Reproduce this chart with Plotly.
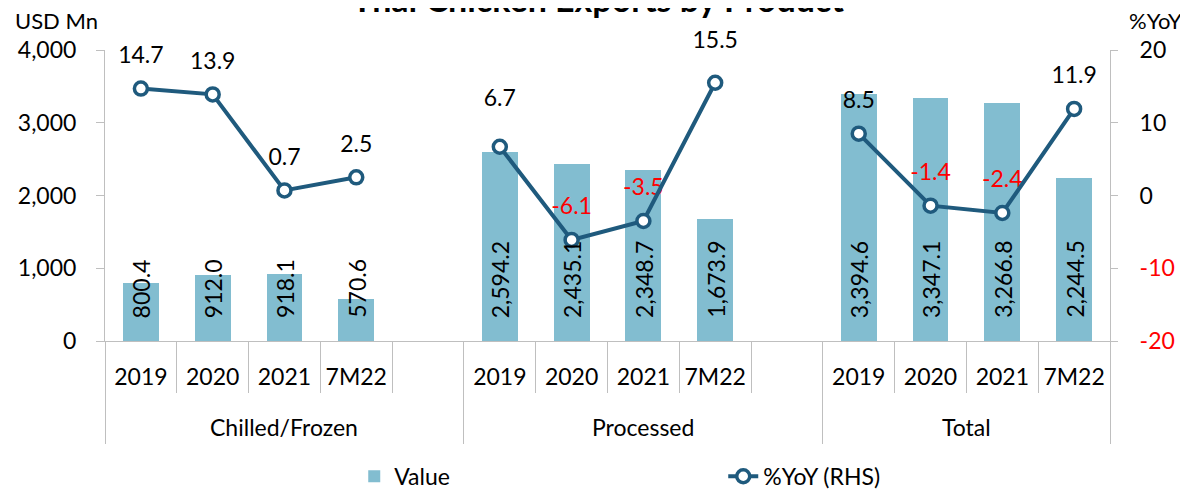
import plotly.graph_objects as go

groups = ["Chilled/Frozen", "Processed", "Total"]
periods = ["2019", "2020", "2021", "7M22"]
value_chilled = [800.4, 912.0, 918.1, 570.6]
value_processed = [2594.2, 2435.1, 2348.7, 1673.9]
value_total = [3394.6, 3347.1, 3266.8, 2244.5]
yoy_chilled = [14.7, 13.9, 0.7, 2.5]
yoy_processed = [6.7, -6.1, -3.5, 15.5]
yoy_total = [8.5, -1.4, -2.4, 11.9]

values = [value_chilled, value_processed, value_total]
yoys = [yoy_chilled, yoy_processed, yoy_total]

# style: label clearance above each %YoY point (invisible marker size, px)
label_gap_chilled = [30, 30, 30, 30]
label_gap_processed = [55, 30, 30, 44]
label_gap_total = [30, 30, 30, 30]
label_gaps = [label_gap_chilled, label_gap_processed, label_gap_total]

FONT = "Lato"
FS = 23
BAR_COLOR = "#82BDD0"
LINE_COLOR = "#1F5A7D"
AXIS_COLOR = "#BFBFBF"
SLOTS = len(periods) + 1  # one blank slot after each group

# page body has an 8px margin; size the figure to fit the 1188x489 window
BODY = 8
W, H = 1188 - BODY, 489 - BODY

bar_x, bar_y, line_x, line_y, gap_s = [], [], [], [], []
tick_pos, tick_txt, sep_pos, grp_pos, grp_ctr = [], [], [], [], []
for gi, g in enumerate(groups):
    base = gi * SLOTS
    grp_pos.append(base - 0.5)
    for pi, p in enumerate(periods):
        pos = base + pi
        bar_x.append(pos)
        bar_y.append(values[gi][pi])
        line_x.append(pos)
        line_y.append(yoys[gi][pi])
        gap_s.append(label_gaps[gi][pi])
        tick_pos.append(pos)
        tick_txt.append(p)
        if pi > 0:
            sep_pos.append(pos - 0.5)
    last = base + len(periods) - 1
    if gi < len(groups) - 1:
        sep_pos.append(last + 0.5)
        line_x.append(last + 1)
        line_y.append(None)
        grp_ctr.append(base + (SLOTS - 1) / 2)
    else:
        grp_ctr.append(base + (len(periods) - 1) / 2)
x_end = len(groups) * SLOTS - 1 - 0.5
grp_pos.append(x_end)
x_range = [-0.5, x_end]

fig = go.Figure()
fig.add_trace(go.Bar(
    x=bar_x, y=bar_y, name="Value", width=0.5,
    marker=dict(color=BAR_COLOR, line=dict(width=0)),
    yaxis="y", xaxis="x",
))
lbl_x = [x for x, y in zip(line_x, line_y) if y is not None]
lbl_y = [y for y in line_y if y is not None]
# text-only helper trace (invisible markers set the label clearance)
fig.add_trace(go.Scatter(
    x=lbl_x, y=lbl_y, mode="markers+text", showlegend=False, hoverinfo="skip",
    yaxis="y2", xaxis="x", cliponaxis=False,
    marker=dict(size=gap_s, color="rgba(0,0,0,0)", opacity=0,
                line=dict(width=0, color="rgba(0,0,0,0)")),
    text=[f"{v:.1f}" for v in lbl_y], textposition="top center",
    textfont=dict(family=FONT, size=FS,
                  color=["#FF0000" if v < 0 else "#000000" for v in lbl_y]),
))
fig.add_trace(go.Scatter(
    x=line_x, y=line_y, name="%YoY (RHS)", mode="lines+markers",
    connectgaps=False, yaxis="y2", xaxis="x", cliponaxis=False,
    line=dict(color=LINE_COLOR, width=4),
    marker=dict(symbol="circle", size=13, color="white",
                line=dict(color=LINE_COLOR, width=3.5)),
))
# invisible traces to register the separator axes
fig.add_trace(go.Scatter(x=[x_range[0]], y=[None], xaxis="x2", yaxis="y",
                         showlegend=False, hoverinfo="skip"))
fig.add_trace(go.Scatter(x=[x_range[0]], y=[None], xaxis="x3", yaxis="y",
                         showlegend=False, hoverinfo="skip"))

for x, v in zip(bar_x, bar_y):
    fig.add_annotation(x=x, y=0, xref="x", yref="y", text=f"{v:,.1f}",
                       textangle=-90, showarrow=False, yanchor="bottom",
                       xanchor="center", yshift=21,
                       font=dict(family=FONT, size=FS, color="#000000"))

for g, c in zip(groups, grp_ctr):
    fig.add_annotation(x=c, y=-0.296, xref="x", yref="paper", text=g,
                       showarrow=False, yanchor="middle", xanchor="center",
                       font=dict(family=FONT, size=FS, color="#000000"))

fig.add_annotation(x=-0.092, y=1.1, xanchor="left", yanchor="middle",
                   xref="paper", yref="paper", text="USD Mn", showarrow=False,
                   font=dict(family=FONT, size=FS - 1, color="#000000"))
fig.add_annotation(x=1.017, y=1.1, xanchor="left", yanchor="middle",
                   xref="paper", yref="paper", text="%YoY", showarrow=False,
                   font=dict(family=FONT, size=FS - 1, color="#000000"))

y2_vals = [-20, -10, 0, 10, 20]
y2_text = [f'<span style="color:#FF0000">{v}</span>' if v < 0 else str(v) for v in y2_vals]

fig.update_layout(
    width=W, height=H,
    margin=dict(l=105 - BODY, r=78, t=50 - BODY, b=148, autoexpand=False),
    paper_bgcolor="white", plot_bgcolor="white",
    font=dict(family=FONT, size=FS, color="#000000"),
    title=dict(text="<b>Thai Chicken Exports by Product</b>", x=0.5, xref="container",
               xanchor="center", y=1 - 4 / H, yref="container", yanchor="bottom",
               font=dict(family=FONT, size=34, color="#000000")),
    bargap=0,
    showlegend=True,
    legend=dict(orientation="h", x=0.248, xanchor="left", y=-0.465, yanchor="middle",
                font=dict(family=FONT, size=FS, color="#000000"),
                entrywidth=324, entrywidthmode="pixels", bgcolor="rgba(0,0,0,0)"),
    xaxis=dict(range=x_range, tickmode="array", tickvals=tick_pos, ticktext=tick_txt,
               showline=True, linecolor=AXIS_COLOR, linewidth=1, ticks="",
               showgrid=False, zeroline=False, ticklabelstandoff=15, automargin=False,
               tickfont=dict(family=FONT, size=FS, color="#000000")),
    xaxis2=dict(range=x_range, overlaying="x", anchor="y", side="bottom",
                tickmode="array", tickvals=sep_pos, ticks="outside", ticklen=51,
                tickcolor=AXIS_COLOR, tickwidth=1, showticklabels=False, automargin=False,
                showline=False, showgrid=False, zeroline=False),
    xaxis3=dict(range=x_range, overlaying="x", anchor="y", side="bottom",
                tickmode="array", tickvals=grp_pos, ticks="outside", ticklen=102,
                tickcolor=AXIS_COLOR, tickwidth=1, showticklabels=False, automargin=False,
                showline=False, showgrid=False, zeroline=False),
    yaxis=dict(range=[0, 4000], tickmode="linear", tick0=0, dtick=1000,
               tickformat=",", showline=True, linecolor=AXIS_COLOR, ticks="outside",
               ticklen=8, tickcolor=AXIS_COLOR, showgrid=False, zeroline=False,
               ticklabelstandoff=15, automargin=False,
               tickfont=dict(family=FONT, size=FS, color="#000000")),
    yaxis2=dict(range=[-20, 20], overlaying="y", side="right", anchor="x",
                tickmode="array", tickvals=y2_vals, ticktext=y2_text,
                showline=True, linecolor=AXIS_COLOR, ticks="outside", ticklen=7,
                tickcolor=AXIS_COLOR, showgrid=False, zeroline=False,
                ticklabelstandoff=17, automargin=False,
                tickfont=dict(family=FONT, size=FS, color="#000000")),
)

fig.write_html("out.html")
